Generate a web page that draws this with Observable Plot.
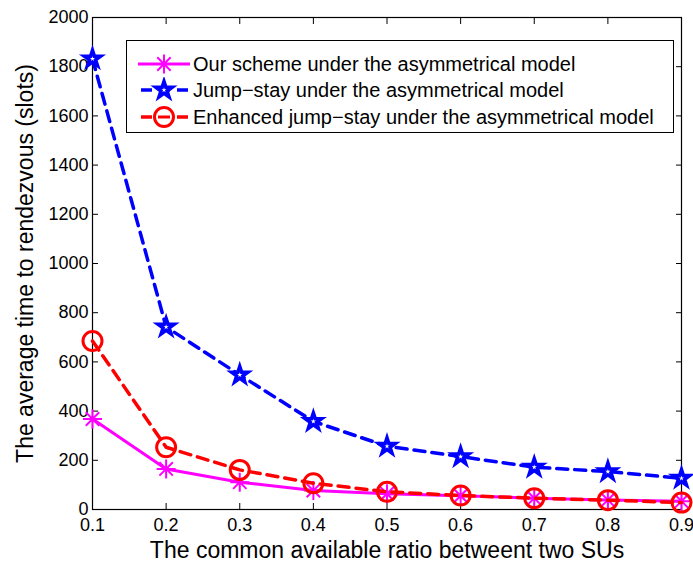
<!DOCTYPE html>
<html><head><meta charset="utf-8">
<script src="https://cdn.jsdelivr.net/npm/d3@7"></script>
<script src="https://cdn.jsdelivr.net/npm/@observablehq/plot@0.6"></script>
<style>
body{margin:0;background:#fff;font-family:"Liberation Sans",Arial,Helvetica,sans-serif;}
#wrap{position:relative;width:693px;height:563px;}
#legend{position:absolute;left:126px;top:40px;width:548px;height:93px;border:1.3px solid #000;background:#fff;box-sizing:border-box;}
.row{position:absolute;left:0;height:26px;display:flex;align-items:center;font-size:20px;color:#000;white-space:nowrap;}
.row svg{margin-left:11px;margin-right:3px;}
</style></head>
<body><div id="wrap"><div id="chart"></div><div id="legend"></div></div>
<script>
const ratios = [0.1,0.2,0.3,0.4,0.5,0.6,0.7,0.8,0.9];
const ourScheme = [368,165,111,77,64,56,46,39,34];
const jumpStay = [1832,742,547,358,257,215,172,154,127];
const enhancedJumpStay = [685,253,161,107,72,57,46,38,28];
const xTicks = [0.1,0.2,0.3,0.4,0.5,0.6,0.7,0.8,0.9];
const yTicks = [0,200,400,600,800,1000,1200,1400,1600,1800,2000];
const seriesNames = ["Our scheme under the asymmetrical model","Jump\u2212stay under the asymmetrical model","Enhanced jump\u2212stay under the asymmetrical model"];

const toRows = vals => ratios.map((x,i)=>({x, y: vals[i]}));
const dOur = toRows(ourScheme), dJump = toRows(jumpStay), dEnh = toRows(enhancedJumpStay);

const asterisk = {draw(ctx, size){const r=Math.sqrt(size/Math.PI);const d=r*Math.SQRT1_2;
  ctx.moveTo(-r,0);ctx.lineTo(r,0);ctx.moveTo(0,-r);ctx.lineTo(0,r);
  ctx.moveTo(-d,-d);ctx.lineTo(d,d);ctx.moveTo(-d,d);ctx.lineTo(d,-d);}};

const magenta="#ff00ff", blue="#0000ff", red="#ff0000";
const font = '"Liberation Sans",Arial,Helvetica,sans-serif';

const chart = Plot.plot({
  width:693, height:563,
  marginLeft:92, marginRight:12, marginTop:17, marginBottom:54,
  style:{fontFamily:font, fontSize:"18px", background:"#fff", color:"#000"},
  x:{domain:[0.1,0.9]},
  y:{domain:[0,2000]},
  marks:[
    Plot.frame({stroke:"#000", strokeWidth:1.2}),
    Plot.axisX(xTicks,{anchor:"bottom", tickSize:-6, tickPadding:15, tickFormat:d=>d.toFixed(1), fontSize:18, label:"The common available ratio betweent two SUs", labelAnchor:"center", labelArrow:"none", labelOffset:48}),
    Plot.axisX(xTicks,{anchor:"top", tickSize:-6, tickFormat:()=>"", label:null}),
    Plot.axisY(yTicks,{anchor:"left", tickSize:-6, tickPadding:10, fontSize:18, tickFormat:d=>String(d), label:"The average time to rendezvous (slots)", labelAnchor:"center", labelArrow:"none", labelOffset:76}),
    Plot.axisY(yTicks,{anchor:"right", tickSize:-6, tickFormat:()=>"", label:null}),
    Plot.line(dOur,{x:"x",y:"y",stroke:magenta,strokeWidth:3}),
    Plot.dot(dOur,{x:"x",y:"y",symbol:asterisk,r:9.5,stroke:magenta,strokeWidth:2,fill:"none"}),
    Plot.line(dJump,{x:"x",y:"y",stroke:blue,strokeWidth:3.5,strokeDasharray:"11,7"}),
    Plot.dot(dJump,{x:"x",y:"y",symbol:"star",r:6.4,stroke:blue,strokeWidth:2.2,fill:blue}),
    Plot.dot(dJump,{x:"x",y:"y",symbol:"star",r:1.6,fill:"#fff"}),
    Plot.line(dEnh,{x:"x",y:"y",stroke:red,strokeWidth:3.5,strokeDasharray:"11,7"}),
    Plot.dot(dEnh,{x:"x",y:"y",symbol:"circle",r:9.5,stroke:red,strokeWidth:3,fill:"none"})
  ]
});
document.getElementById("chart").appendChild(chart);
d3.select(chart).selectAll("g[aria-label='y-axis label'] text, g[aria-label='x-axis label'] text").style("font-size","23px");

// legend
const leg = document.getElementById("legend");
const colors=[magenta,blue,red];
const tops=[10,36,63];
seriesNames.forEach((name,i)=>{
  const row=document.createElement("div");row.className="row";row.style.top=tops[i]+"px";
  const s=d3.create("svg").attr("width",52).attr("height",26);
  if(i===0){
    s.append("line").attr("x1",0).attr("x2",52).attr("y1",13).attr("y2",13).attr("stroke",magenta).attr("stroke-width",3);
    const p=d3.path();asterisk.draw(p,Math.PI*90);s.append("path").attr("d",p.toString()).attr("transform","translate(26,13)").attr("stroke",magenta).attr("stroke-width",2).attr("fill","none");
  } else {
    s.append("line").attr("x1",0).attr("x2",52).attr("y1",13).attr("y2",13).attr("stroke",colors[i]).attr("stroke-width",3.5).attr("stroke-dasharray","11,7").attr("stroke-dashoffset",-3);
    if(i===1){
      s.append("path").attr("d",d3.symbol(d3.symbolStar,Math.PI*6.4*6.4)()).attr("transform","translate(26,13)").attr("fill",blue).attr("stroke",blue).attr("stroke-width",2.2);
      s.append("path").attr("d",d3.symbol(d3.symbolStar,Math.PI*1.6*1.6)()).attr("transform","translate(26,13)").attr("fill","#fff");
    } else {
      s.append("circle").attr("cx",26).attr("cy",13).attr("r",9.5).attr("fill","#fff").attr("stroke",red).attr("stroke-width",3);
      s.append("line").attr("x1",20).attr("x2",32).attr("y1",13).attr("y2",13).attr("stroke",red).attr("stroke-width",3);
    }
  }
  row.appendChild(s.node());
  const t=document.createElement("span");t.textContent=name;row.appendChild(t);
  leg.appendChild(row);
});
</script></body></html>
